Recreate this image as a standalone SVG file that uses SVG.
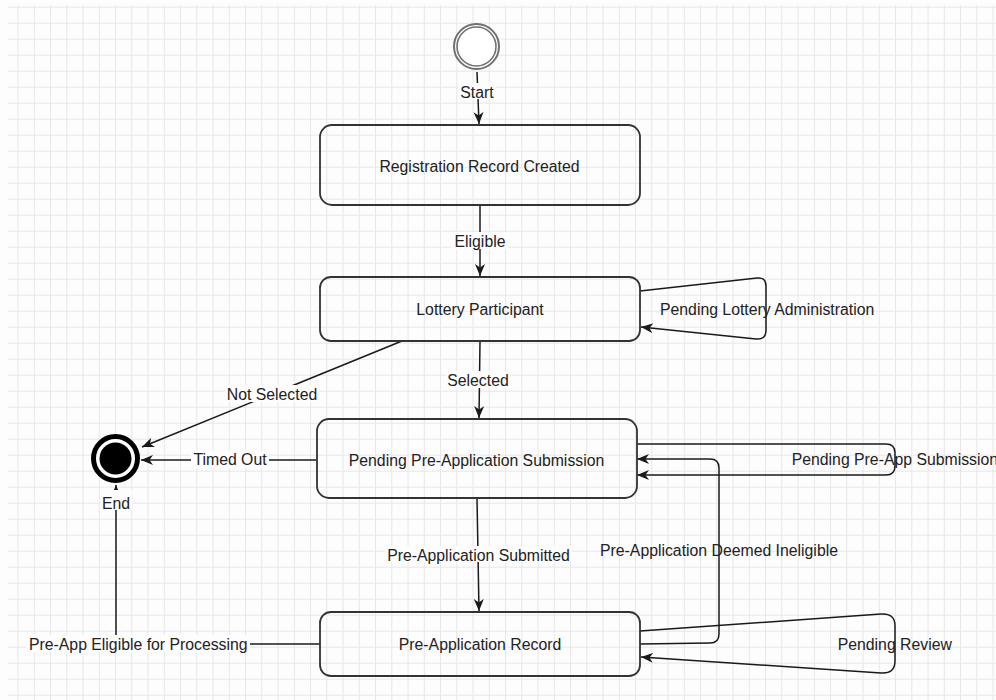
<svg xmlns="http://www.w3.org/2000/svg" width="996" height="700" viewBox="0 0 996 700">
<defs>
<pattern id="grid" patternUnits="userSpaceOnUse" x="1.3" y="6.7" width="16.25" height="16">
<path d="M0,0.5 H16.25 M0.5,0 V16" fill="none" stroke="#e7e7e7" stroke-width="1"/>
</pattern>
<marker id="arr" markerUnits="userSpaceOnUse" markerWidth="14" markerHeight="12" refX="12" refY="5" orient="auto">
<path d="M0,0 L12,5 L0,10 L3.5,5 Z" fill="#1a1a1a"/>
</marker>
<style>
text{font-family:"Liberation Sans",Arial,Helvetica,sans-serif;font-size:15.8px;fill:#222}
.c{text-anchor:middle}
.box{fill:none;stroke:#333;stroke-width:1.8}
.e{fill:none;stroke:#1a1a1a;stroke-width:1.5}
.bg{fill:#fdfdfd}
</style>
</defs>
<rect width="996" height="700" fill="#fdfdfd"/>
<rect x="8" y="5" width="988" height="695" fill="url(#grid)"/>

<g id="connectors">
<path class="e" d="M477,72 L479,124" marker-end="url(#arr)"/>
<path class="e" d="M480,205 L480,276" marker-end="url(#arr)"/>
<path class="e" d="M640,291 L757,278 Q766,277 766,286 L766,330 Q766,340 756,339 L641,327" marker-end="url(#arr)"/>
<path class="e" d="M402,341 L142,447" marker-end="url(#arr)"/>
<path class="e" d="M480,341 L479,418" marker-end="url(#arr)"/>
<path class="e" d="M317,460 L141,460" marker-end="url(#arr)"/>
<path class="e" d="M637,444 L886,444 Q895,444 895,453 L895,466 Q895,475 886,475 L637,475" marker-end="url(#arr)"/>
<path class="e" d="M640,644 L710,643 Q719,643 719,634 L719,468 Q719,459 710,459 L637,459" marker-end="url(#arr)"/>
<path class="e" d="M477,498 L479,611" marker-end="url(#arr)"/>
<path class="e" d="M640,631 L881,614 Q895,613 895,626 L895,661 Q895,674 881,673 L641,657" marker-end="url(#arr)"/>
<path class="e" d="M320,644 L116,644 L116,485" marker-end="url(#arr)"/>
</g>

<g id="edge-labels">
<rect class="bg" x="458" y="83" width="38" height="16"/>
<text class="c" x="477" y="98">Start</text>
<rect class="bg" x="452" y="232" width="56" height="17"/>
<text class="c" x="480" y="246.5">Eligible</text>
<rect class="bg" x="225" y="385" width="94" height="17"/>
<text class="c" x="272" y="399.5">Not Selected</text>
<rect class="bg" x="446" y="371" width="64" height="17"/>
<text class="c" x="478" y="385.5">Selected</text>
<rect class="bg" x="191" y="451" width="78" height="17"/>
<text class="c" x="230" y="465">Timed Out</text>
<rect class="bg" x="385" y="546" width="187" height="16"/>
<text class="c" x="478.5" y="561">Pre-Application Submitted</text>
<rect class="bg" x="26" y="635" width="224" height="17"/>
<text class="c" x="138.3" y="649.5">Pre-App Eligible for Processing</text>
<text x="660" y="314.5">Pending Lottery Administration</text>
<text x="791.7" y="465">Pending Pre-App Submission</text>
<text x="600" y="555.5">Pre-Application Deemed Ineligible</text>
<text x="837.7" y="649.5">Pending Review</text>
</g>

<g id="start">
<circle cx="476.5" cy="46.5" r="22.5" fill="#fff" stroke="#707070" stroke-width="2"/>
<circle cx="476.5" cy="46.5" r="19.5" fill="none" stroke="#707070" stroke-width="1.6"/>
</g>

<g id="end">
<circle cx="115.5" cy="458.5" r="22" fill="#fff" stroke="#000" stroke-width="5"/>
<circle cx="115.5" cy="458.5" r="16" fill="#000"/>
<rect class="bg" x="100" y="490" width="32" height="20"/>
<text class="c" x="116" y="509">End</text>
</g>

<g id="registration">
<rect class="box" x="320" y="125" width="320" height="80" rx="12"/>
<text class="c" x="479.5" y="171.5">Registration Record Created</text>
</g>

<g id="lottery">
<rect class="box" x="320" y="277" width="320" height="64" rx="11"/>
<text class="c" x="480" y="314.5">Lottery Participant</text>
</g>

<g id="pending-submission">
<rect class="box" x="317" y="419" width="320" height="79" rx="12"/>
<text class="c" x="476.5" y="465.5">Pending Pre-Application Submission</text>
</g>

<g id="preapp-record">
<rect class="box" x="320" y="612" width="320" height="64" rx="11"/>
<text class="c" x="480" y="649.5">Pre-Application Record</text>
</g>
</svg>
